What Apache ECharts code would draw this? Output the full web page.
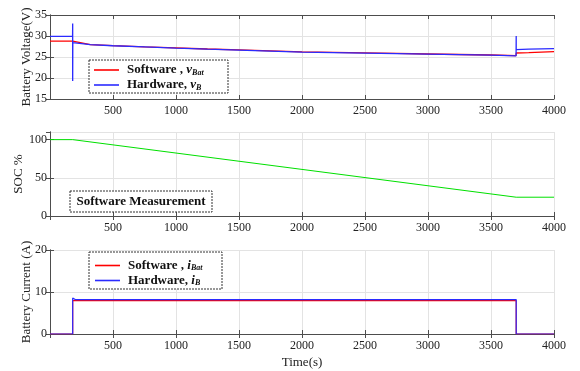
<!DOCTYPE html>
<html>
<head>
<meta charset="utf-8">
<script src="https://cdn.jsdelivr.net/npm/echarts@6/dist/echarts.min.js"></script>
<style>html,body{margin:0;padding:0;background:#fff}#c{width:580px;height:371px}</style>
</head>
<body>
<div id="c"></div>
<script>
// ---- data ----
const xTicks = [500, 1000, 1500, 2000, 2500, 3000, 3500, 4000];

const swVoltTime = [0, 180, 181, 320, 500, 750, 1000, 1250, 1500, 1750, 2000, 2250, 2500, 2750, 3000, 3250, 3500, 3699, 3700, 3800, 4000];
const swVolt     = [28.8, 28.8, 28.45, 27.97, 27.7, 27.42, 27.15, 26.9, 26.68, 26.45, 26.2, 26.08, 25.97, 25.85, 25.72, 25.6, 25.48, 25.35, 25.95, 26.05, 26.3];

const hwVoltTime = [0, 179, 180, 180, 181, 320, 500, 750, 1000, 1250, 1500, 1750, 2000, 2250, 2500, 2750, 3000, 3250, 3500, 3699, 3700, 3700, 3701, 3800, 4000];
const hwVolt     = [29.9, 29.9, 33, 19.3, 28.4, 27.95, 27.68, 27.4, 27.12, 26.88, 26.66, 26.42, 26.18, 26.05, 25.94, 25.82, 25.7, 25.57, 25.44, 25.28, 30, 26.75, 26.78, 26.88, 26.98];

const socTime = [0, 180, 3700, 4000];
const soc     = [100, 100, 24.6, 24.6];

const swCurTime = [0, 180, 180, 3700, 3700, 4000];
const swCur     = [0, 0, 7.95, 7.95, 0, 0];

const hwCurTime = [0, 180, 180, 200, 3700, 3700, 4000];
const hwCur     = [0, 0, 8.6, 8.2, 8.2, 0, 0];

const pairs = (t, v) => t.map((x, i) => [x, v[i]]);

// ---- styling ----
const FONT = 'Liberation Serif';
const AX = '#4d4d4d';
const GRIDC = '#e3e3e3';
const RED = '#ff0000';
const BLUE = '#2b2bff';
const GREEN = '#00e000';

const grids = [
  {left: 50, width: 504, top: 15, height: 84},
  {left: 50, width: 504, top: 132, height: 84},
  {left: 50, width: 504, top: 250, height: 84}
];

const xAxes = [];
const yAxes = [];
const yCfg = [
  {min: 15, max: 35, interval: 5, name: 'Battery Voltage(V)', gap: 17},
  {min: 0, max: 110, interval: 50, name: 'SOC %', gap: 25},
  {min: 0, max: 20, interval: 10, name: 'Battery Current (A)', gap: 17}
];
grids.forEach((g, i) => {
  xAxes.push({
    type: 'value', gridIndex: i, min: 0, max: 4000, interval: 500,
    axisLine: {lineStyle: {color: AX, width: 1}},
    axisTick: {inside: true, length: 4, lineStyle: {color: AX}},
    splitLine: {show: true, lineStyle: {color: GRIDC, width: 1}},
    axisLabel: {
      margin: 6, fontFamily: FONT, fontSize: 12, color: '#222',
      formatter: v => (xTicks.indexOf(v) >= 0 ? String(v) : '')
    },
    name: i === 2 ? 'Time(s)' : '', nameLocation: 'middle', nameGap: 22, nameMoveOverlap: false,
    nameTextStyle: {fontFamily: FONT, fontSize: 13, color: '#222'}
  });
  xAxes.push({
    type: 'value', gridIndex: i, position: 'top', min: 0, max: 4000, interval: 500,
    axisLine: {lineStyle: {color: AX, width: 1}},
    axisTick: {inside: true, length: 4, lineStyle: {color: AX}},
    splitLine: {show: false}, axisLabel: {show: false}
  });
  const c = yCfg[i];
  yAxes.push({
    type: 'value', gridIndex: i, min: c.min, max: c.max, interval: c.interval,
    axisLine: {show: true, lineStyle: {color: AX, width: 1}},
    axisTick: {show: true, inside: true, length: 4, lineStyle: {color: AX}},
    splitLine: {show: true, lineStyle: {color: GRIDC, width: 1}},
    axisLabel: {margin: 3, fontFamily: FONT, fontSize: 12, color: '#222', showMaxLabel: i !== 1},
    name: c.name, nameLocation: 'middle', nameGap: c.gap, nameMoveOverlap: false,
    nameTextStyle: {fontFamily: FONT, fontSize: 13, color: '#222'}
  });
  yAxes.push({
    type: 'value', gridIndex: i, position: 'right', min: c.min, max: c.max, interval: c.interval,
    axisLine: {show: true, lineStyle: {color: AX, width: 1}},
    axisTick: {show: true, inside: true, length: 4, lineStyle: {color: AX}},
    splitLine: {show: false}, axisLabel: {show: false}
  });
});

const line = (name, data, color, gi, w) => ({
  name, type: 'line', data, xAxisIndex: gi * 2, yAxisIndex: gi * 2,
  showSymbol: false, symbol: 'none', animation: false,
  lineStyle: {color, width: w || 1.2}, itemStyle: {color}
});

const S1 = 'Software , vBat', H1 = 'Hardware, vB';
const S3 = 'Software , iBat', H3 = 'Hardware, iB';
const richLeg = {
  b: {fontFamily: FONT, fontSize: 13, fontWeight: 'bold', color: '#111'},
  i: {fontFamily: FONT, fontSize: 13, fontWeight: 'bold', fontStyle: 'italic', color: '#111'},
  s: {fontFamily: FONT, fontSize: 8, fontWeight: 'bold', fontStyle: 'italic', color: '#111', padding: [5, 0, 0, 0]}
};
const legFmt = n => {
  const map = {
    [S1]: '{b|Software , }{i|v}{s|Bat}',
    [H1]: '{b|Hardware, }{i|v}{s|B}',
    [S3]: '{b|Software , }{i|i}{s|Bat}',
    [H3]: '{b|Hardware, }{i|i}{s|B}'
  };
  return map[n];
};
const legendBase = {
  orient: 'vertical', icon: 'rect', itemWidth: 25, itemHeight: 1.6, itemGap: 2,
  padding: 0, selectedMode: false, formatter: legFmt,
  textStyle: {rich: richLeg, padding: [0, 0, 0, 3]}, z: 10
};

const option = {
  backgroundColor: '#fff',
  animation: false,
  grid: grids.map(g => Object.assign({show: false}, g)),
  xAxis: xAxes,
  yAxis: yAxes,
  legend: [
    Object.assign({}, legendBase, {data: [S1, H1], left: 94, top: 63.5}),
    Object.assign({}, legendBase, {data: [S3, H3], left: 95, top: 259})
  ],
  graphic: [
    {type: 'rect', z: 5, shape: {x: 89, y: 60, width: 139, height: 33},
     style: {fill: '#fff', stroke: '#333', lineWidth: 1, lineDash: [2, 1]}},
    {type: 'rect', z: 5, shape: {x: 89, y: 252, width: 133, height: 37},
     style: {fill: '#fff', stroke: '#333', lineWidth: 1, lineDash: [2, 1]}},
    {type: 'rect', z: 5, shape: {x: 70, y: 191, width: 142, height: 21},
     style: {fill: '#fff', stroke: '#333', lineWidth: 1, lineDash: [2, 1]}},
    {type: 'text', z: 6, x: 141, y: 201.5,
     style: {text: 'Software Measurement', fontFamily: FONT, fontSize: 13, fontWeight: 'bold',
             fill: '#111', align: 'center', verticalAlign: 'middle'}}
  ],
  series: [
    line(S1, pairs(swVoltTime, swVolt), RED, 0, 1.3),
    line(H1, pairs(hwVoltTime, hwVolt), BLUE, 0, 1.3),
    line('SOC', pairs(socTime, soc), GREEN, 1, 1),
    line(S3, pairs(swCurTime, swCur), RED, 2, 1.2),
    line(H3, pairs(hwCurTime, hwCur), BLUE, 2, 1.2)
  ]
};

const chart = echarts.init(document.getElementById('c'), null, {renderer: 'canvas'});
chart.setOption(option);
</script>
</body>
</html>
